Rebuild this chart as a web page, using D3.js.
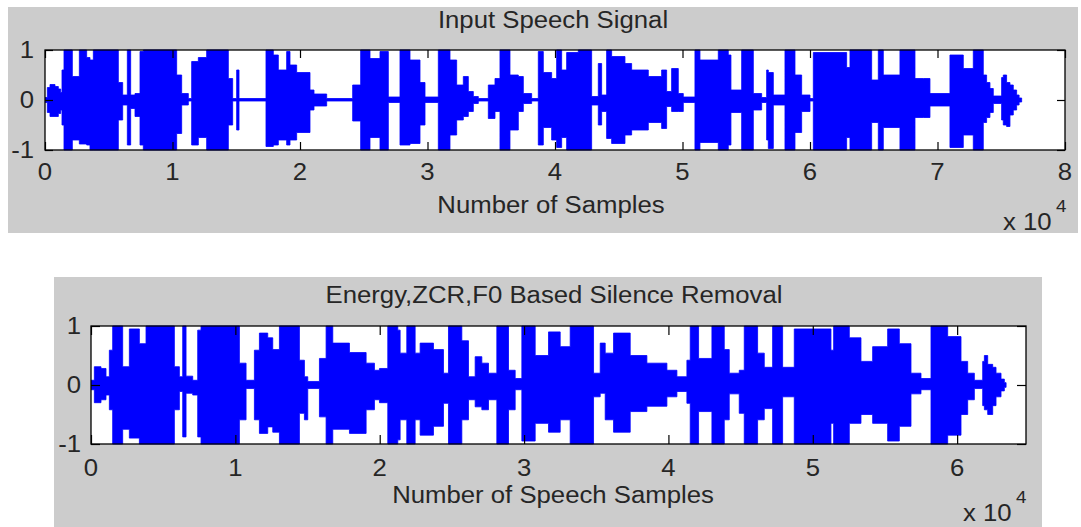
<!DOCTYPE html>
<html>
<head>
<meta charset="utf-8">
<script src="https://cdn.jsdelivr.net/npm/d3@7"></script>
<style>
  body { margin: 0; background: #ffffff; }
  svg { display: block; }
  text { font-family: Arial, "Liberation Sans", sans-serif; fill: #262626; }
</style>
</head>
<body>
<svg id="fig" width="1081" height="527"></svg>
<script>
// Envelope of the raw recording: each segment starts at a sample index and
// holds its max / min amplitude until the next breakpoint.
const inputPos = [0, 183, 392, 784, 1046, 1229, 1333, 1490, 2144, 2693, 3268, 3529, 3791, 5752, 6092, 6458, 6719, 7059, 7451, 7712,
  10327, 10719, 11242, 11503, 12026, 12680, 14379, 14719, 15033, 15216, 17333, 17908, 18301, 18954, 19215, 19738, 20784, 21098, 22092,
  24131, 24758, 25490, 26274, 26928, 27843, 28627, 29412, 29804, 30849, 31764, 32287, 32810, 33202, 33594, 33986, 34770, 35293, 35685,
  36469, 37123, 37515, 38169, 38691, 39083, 39737, 40129, 40521, 40914, 41828, 42873, 43396, 43658, 44050, 44442, 45488, 46010, 47318,
  48363, 48755, 49147, 49670, 50062, 50977, 51369, 52807, 53591, 53800, 54640, 55555, 56208, 56600, 56731, 57123, 58038, 58822, 59345,
  59999, 60260, 62874, 63135, 64835, 65357, 65749, 67056, 68233, 68886, 69409, 70977, 72023, 72807, 73591, 73852, 74114, 74376,
  75029, 75160, 75420, 75683, 75944, 76206, 76400];
const inputUpper = [0.05, 0.25, 0.31, 0.27, 0.22, 0.15, 0.6, 1, 0.47, 1, 0.85, 0.8, 1, 0.35, 0.1, 1, 0.1, 0.13, 0.97, 1,
  0.5, 0.13, 0.03, 0.77, 0.85, 1, 0.43, 0.03, 0.6, 0.03, 1, 0.9, 0.6, 0.97, 0.7, 0.55, 0.2, 0.12, 0.03,
  0.3, 1, 0.83, 0.97, 0.06, 1, 0.8, 0.35, 0.06, 1, 0.8, 0.3, 0.47, 0.17, 0.07, 0.03, 0.3, 0.43, 1,
  0.5, 0.47, 0.13, 0.03, 0.97, 0.55, 0.43, 1, 0.6, 0.95, 1, 0.07, 0.73, 0.1, 1, 0.87, 0.73, 0.6, 0.47,
  0.6, 0.17, 0.63, 0.13, 0.06, 1, 0.8, 1, 0.9, 0.2, 1, 0.13, 0.05, 0.6, 0.55, 0.1, 1, 0.5, 0.1,
  0.03, 0.95, 0.65, 1, 0.4, 1, 0.5, 1, 0.43, 0.43, 0.13, 0.9, 0.63, 1, 0.5, 0.35, 0.23, 0.08,
  0.45, 0.5, 0.35, 0.3, 0.2, 0.1, 0.04];
const inputLower = [-0.05, -0.25, -0.33, -0.33, -0.27, -0.2, -0.5, -1, -0.8, -0.88, -0.9, -1, -1, -0.4, -0.1, -0.9, -0.17, -0.33, -0.9, -1,
  -0.67, -0.1, -0.02, -0.9, -0.75, -1, -0.5, -0.02, -0.6, -0.02, -0.93, -0.9, -0.8, -0.9, -0.8, -0.65, -0.2, -0.12, -0.02,
  -0.42, -1, -0.75, -1, -0.05, -0.9, -0.87, -0.5, -0.05, -1, -0.7, -0.4, -0.33, -0.23, -0.07, -0.02, -0.37, -0.23, -1,
  -0.6, -0.23, -0.07, -0.02, -0.9, -0.55, -0.8, -0.95, -0.75, -1, -1, -0.1, -0.5, -0.23, -0.77, -0.87, -0.7, -0.6, -0.45,
  -0.57, -0.13, -0.23, -0.23, -0.05, -1, -0.85, -1, -0.9, -0.25, -1, -0.2, -0.05, -0.8, -0.97, -0.1, -1, -0.65, -0.23,
  -0.02, -1, -0.75, -1, -0.45, -1, -0.55, -1, -0.35, -0.35, -0.12, -0.95, -0.7, -1, -0.45, -0.35, -0.25, -0.07,
  -0.4, -0.5, -0.53, -0.3, -0.2, -0.1, -0.04];
const inputLength = 76600;

// Envelope of the signal left after energy / ZCR / F0 silence removal.
const cleanedPos = [0, 231, 693, 1040, 1271, 1502, 2195, 2657, 3350, 3812, 5775, 6122, 6353, 6584, 7046, 7392, 7623, 10280, 10742,
  11319, 11666, 12243, 12590, 13052, 14437, 14784, 15015, 15824, 16286, 16748, 17903, 19058, 19635, 19982, 20559, 21252,
  21414, 21876, 22454, 22800, 23724, 24417, 24764, 25688, 26150, 26612, 27074, 27536, 28113, 28922, 29384, 29846, 30770, 31694,
  32502, 33195, 34812, 35274, 35621, 36198, 37353, 38508, 39894, 40587, 41280, 41511, 42089, 43013, 43867, 44214, 44907, 45253,
  46177, 46639, 47217, 47910, 48718, 51259, 51444, 52530, 53338, 54147, 55186, 55995, 56803, 57496, 58189, 59344, 60268, 60730,
  61192, 61770, 61886, 62117, 62463, 62694, 63040, 63270];
const cleanedUpper = [0.08, 0.31, 0.28, 0.14, 0.59, 1, 0.31, 0.95, 0.7, 1, 0.31, 0.14, 1, 0.15, 0.08, 0.93, 1, 0.37, 0.08,
  0.59, 0.88, 0.8, 0.6, 1, 0.42, 0.14, 0.06, 0.45, 1, 0.71, 0.55, 0.37, 0.25, 0.28, 1, 0.93,
  0.54, 1, 0.54, 0.71, 0.6, 0.2, 1, 0.75, 0.14, 0.48, 0.37, 0.2, 1, 0.25, 0.11, 1, 0.5, 0.9,
  0.65, 1, 0.2, 0.71, 0.54, 0.88, 0.5, 0.37, 0.25, 0.14, 0.42, 1, 0.45, 1, 0.6, 0.2, 0.25, 1,
  0.54, 0.3, 1, 0.3, 0.95, 0.59, 1, 0.8, 0.4, 0.65, 0.95, 0.7, 0.2, 0.11, 1, 0.82, 0.4, 0.2,
  0.08, 0.4, 0.5, 0.35, 0.3, 0.2, 0.1, 0.04];
const cleanedLower = [-0.08, -0.3, -0.25, -0.17, -0.42, -1, -0.75, -0.9, -1, -1, -0.42, -0.11, -0.88, -0.14, -0.17, -0.88, -1, -0.59, -0.06,
  -0.59, -0.82, -0.71, -0.8, -1, -0.48, -0.59, -0.06, -0.54, -1, -0.75, -0.82, -0.42, -0.25, -0.3, -1, -0.93,
  -0.59, -1, -0.59, -0.85, -0.7, -0.31, -1, -0.59, -0.25, -0.37, -0.42, -0.25, -1, -0.42, -0.08, -0.95, -0.65, -0.8,
  -0.59, -1, -0.2, -0.14, -0.59, -0.8, -0.45, -0.36, -0.2, -0.11, -0.31, -1, -0.45, -1, -0.59, -0.15, -0.48, -1,
  -0.59, -0.4, -1, -0.2, -1, -0.65, -1, -0.65, -0.5, -0.65, -0.95, -0.7, -0.15, -0.08, -1, -0.85, -0.5, -0.25,
  -0.06, -0.35, -0.42, -0.5, -0.35, -0.2, -0.1, -0.04];
const cleanedLength = 63390;

// Axis ticks (x in units of 10^4 samples)
const inputTicks = [0, 1, 2, 3, 4, 5, 6, 7, 8];
const cleanedTicks = [0, 1, 2, 3, 4, 5, 6];
const ampTicks = [-1, 0, 1];

const svg = d3.select("#fig");
const FONT = 23.4, STRETCH = 1.1;

function label(g, x, y, str, anchor, size) {
  return g.append("text")
    .attr("transform", `translate(${x},${y}) scale(${STRETCH},1)`)
    .attr("text-anchor", anchor || "middle")
    .style("font-size", (size || FONT) + "px")
    .text(str);
}

function drawPanel(cfg) {
  const g = svg.append("g");
  g.append("rect").attr("x", cfg.panel[0]).attr("y", cfg.panel[1])
    .attr("width", cfg.panel[2]).attr("height", cfg.panel[3]).attr("fill", "#cccccc");

  const [bx, by, bw, bh] = cfg.box;
  const x = d3.scaleLinear().domain([0, cfg.xMax]).range([bx, bx + bw]);
  const y = d3.scaleLinear().domain([-1, 1]).range([by + bh, by]);

  g.append("rect").attr("x", bx).attr("y", by).attr("width", bw).attr("height", bh).attr("fill", "#ffffff");

  const clipId = "clip-" + cfg.id;
  g.append("clipPath").attr("id", clipId).append("rect")
    .attr("x", bx).attr("y", by - 1).attr("width", bw).attr("height", bh + 2);

  const env = cfg.pos.map((p, i) => ({ s: p, hi: cfg.upper[i], lo: cfg.lower[i] }));
  env.push({ s: cfg.length, hi: 0, lo: 0 });
  const area = d3.area()
    .x(d => x(d.s))
    .y0(d => y(d.lo))
    .y1(d => y(d.hi))
    .curve(d3.curveStepAfter);
  g.append("path").datum(env).attr("clip-path", `url(#${clipId})`)
    .attr("d", area).attr("fill", "#0000ff").attr("stroke", "#0000ff").attr("stroke-width", 0.8);

  const tl = cfg.tick;
  const xTicks = cfg.ticks.map(t => t * 1e4);
  // inward tick marks on all four sides
  const bottom = g.append("g").attr("transform", `translate(0,${by + bh})`)
    .call(d3.axisBottom(x).tickValues(xTicks).tickSizeInner(-tl).tickSizeOuter(0).tickFormat(""));
  const top = g.append("g").attr("transform", `translate(0,${by})`)
    .call(d3.axisTop(x).tickValues(xTicks).tickSizeInner(-tl).tickSizeOuter(0).tickFormat(""));
  const left = g.append("g").attr("transform", `translate(${bx},0)`)
    .call(d3.axisLeft(y).tickValues(ampTicks).tickSizeInner(-tl).tickSizeOuter(0).tickFormat(""));
  const right = g.append("g").attr("transform", `translate(${bx + bw},0)`)
    .call(d3.axisRight(y).tickValues(ampTicks).tickSizeInner(-tl).tickSizeOuter(0).tickFormat(""));
  [bottom, top, left, right].forEach(a => {
    a.select(".domain").remove();
    a.selectAll(".tick line").attr("stroke", "#000000").attr("stroke-width", 1.2);
  });

  g.append("rect").attr("x", bx).attr("y", by).attr("width", bw).attr("height", bh)
    .attr("fill", "none").attr("stroke", "#000000").attr("stroke-width", 1.3);

  // tick labels
  cfg.ticks.forEach(t => label(g, x(t * 1e4), by + bh + cfg.xLabelDy, String(t), "middle"));
  ampTicks.forEach(v => label(g, bx - cfg.yLabelGap, y(v) + 8, String(v), "end"));

  label(g, cfg.titleX, cfg.titleY, cfg.title, "middle");
  label(g, cfg.xlabelX, cfg.xlabelY, cfg.xlabel, "middle");
  label(g, cfg.expX, cfg.expY, "x 10", "start");
  label(g, cfg.expX + 53, cfg.expY - 18, "4", "start", 17);
}

drawPanel({
  id: "input",
  panel: [8, 7, 1070, 226],
  box: [45, 50, 1020, 100],
  xMax: 80000,
  pos: inputPos, upper: inputUpper, lower: inputLower, length: inputLength,
  ticks: inputTicks, tick: 8,
  xLabelDy: 30, yLabelGap: 11,
  title: "Input Speech Signal", titleX: 553, titleY: 28,
  xlabel: "Number of Samples", xlabelX: 551, xlabelY: 213,
  expX: 1003, expY: 230
});

drawPanel({
  id: "cleaned",
  panel: [54, 277, 988, 250],
  box: [91, 326, 935, 118],
  xMax: 64770,
  pos: cleanedPos, upper: cleanedUpper, lower: cleanedLower, length: cleanedLength,
  ticks: cleanedTicks, tick: 9,
  xLabelDy: 32, yLabelGap: 10,
  title: "Energy,ZCR,F0 Based Silence Removal", titleX: 554, titleY: 303,
  xlabel: "Number of Speech Samples", xlabelX: 553, xlabelY: 503,
  expX: 963, expY: 521
});
</script>
</body>
</html>
